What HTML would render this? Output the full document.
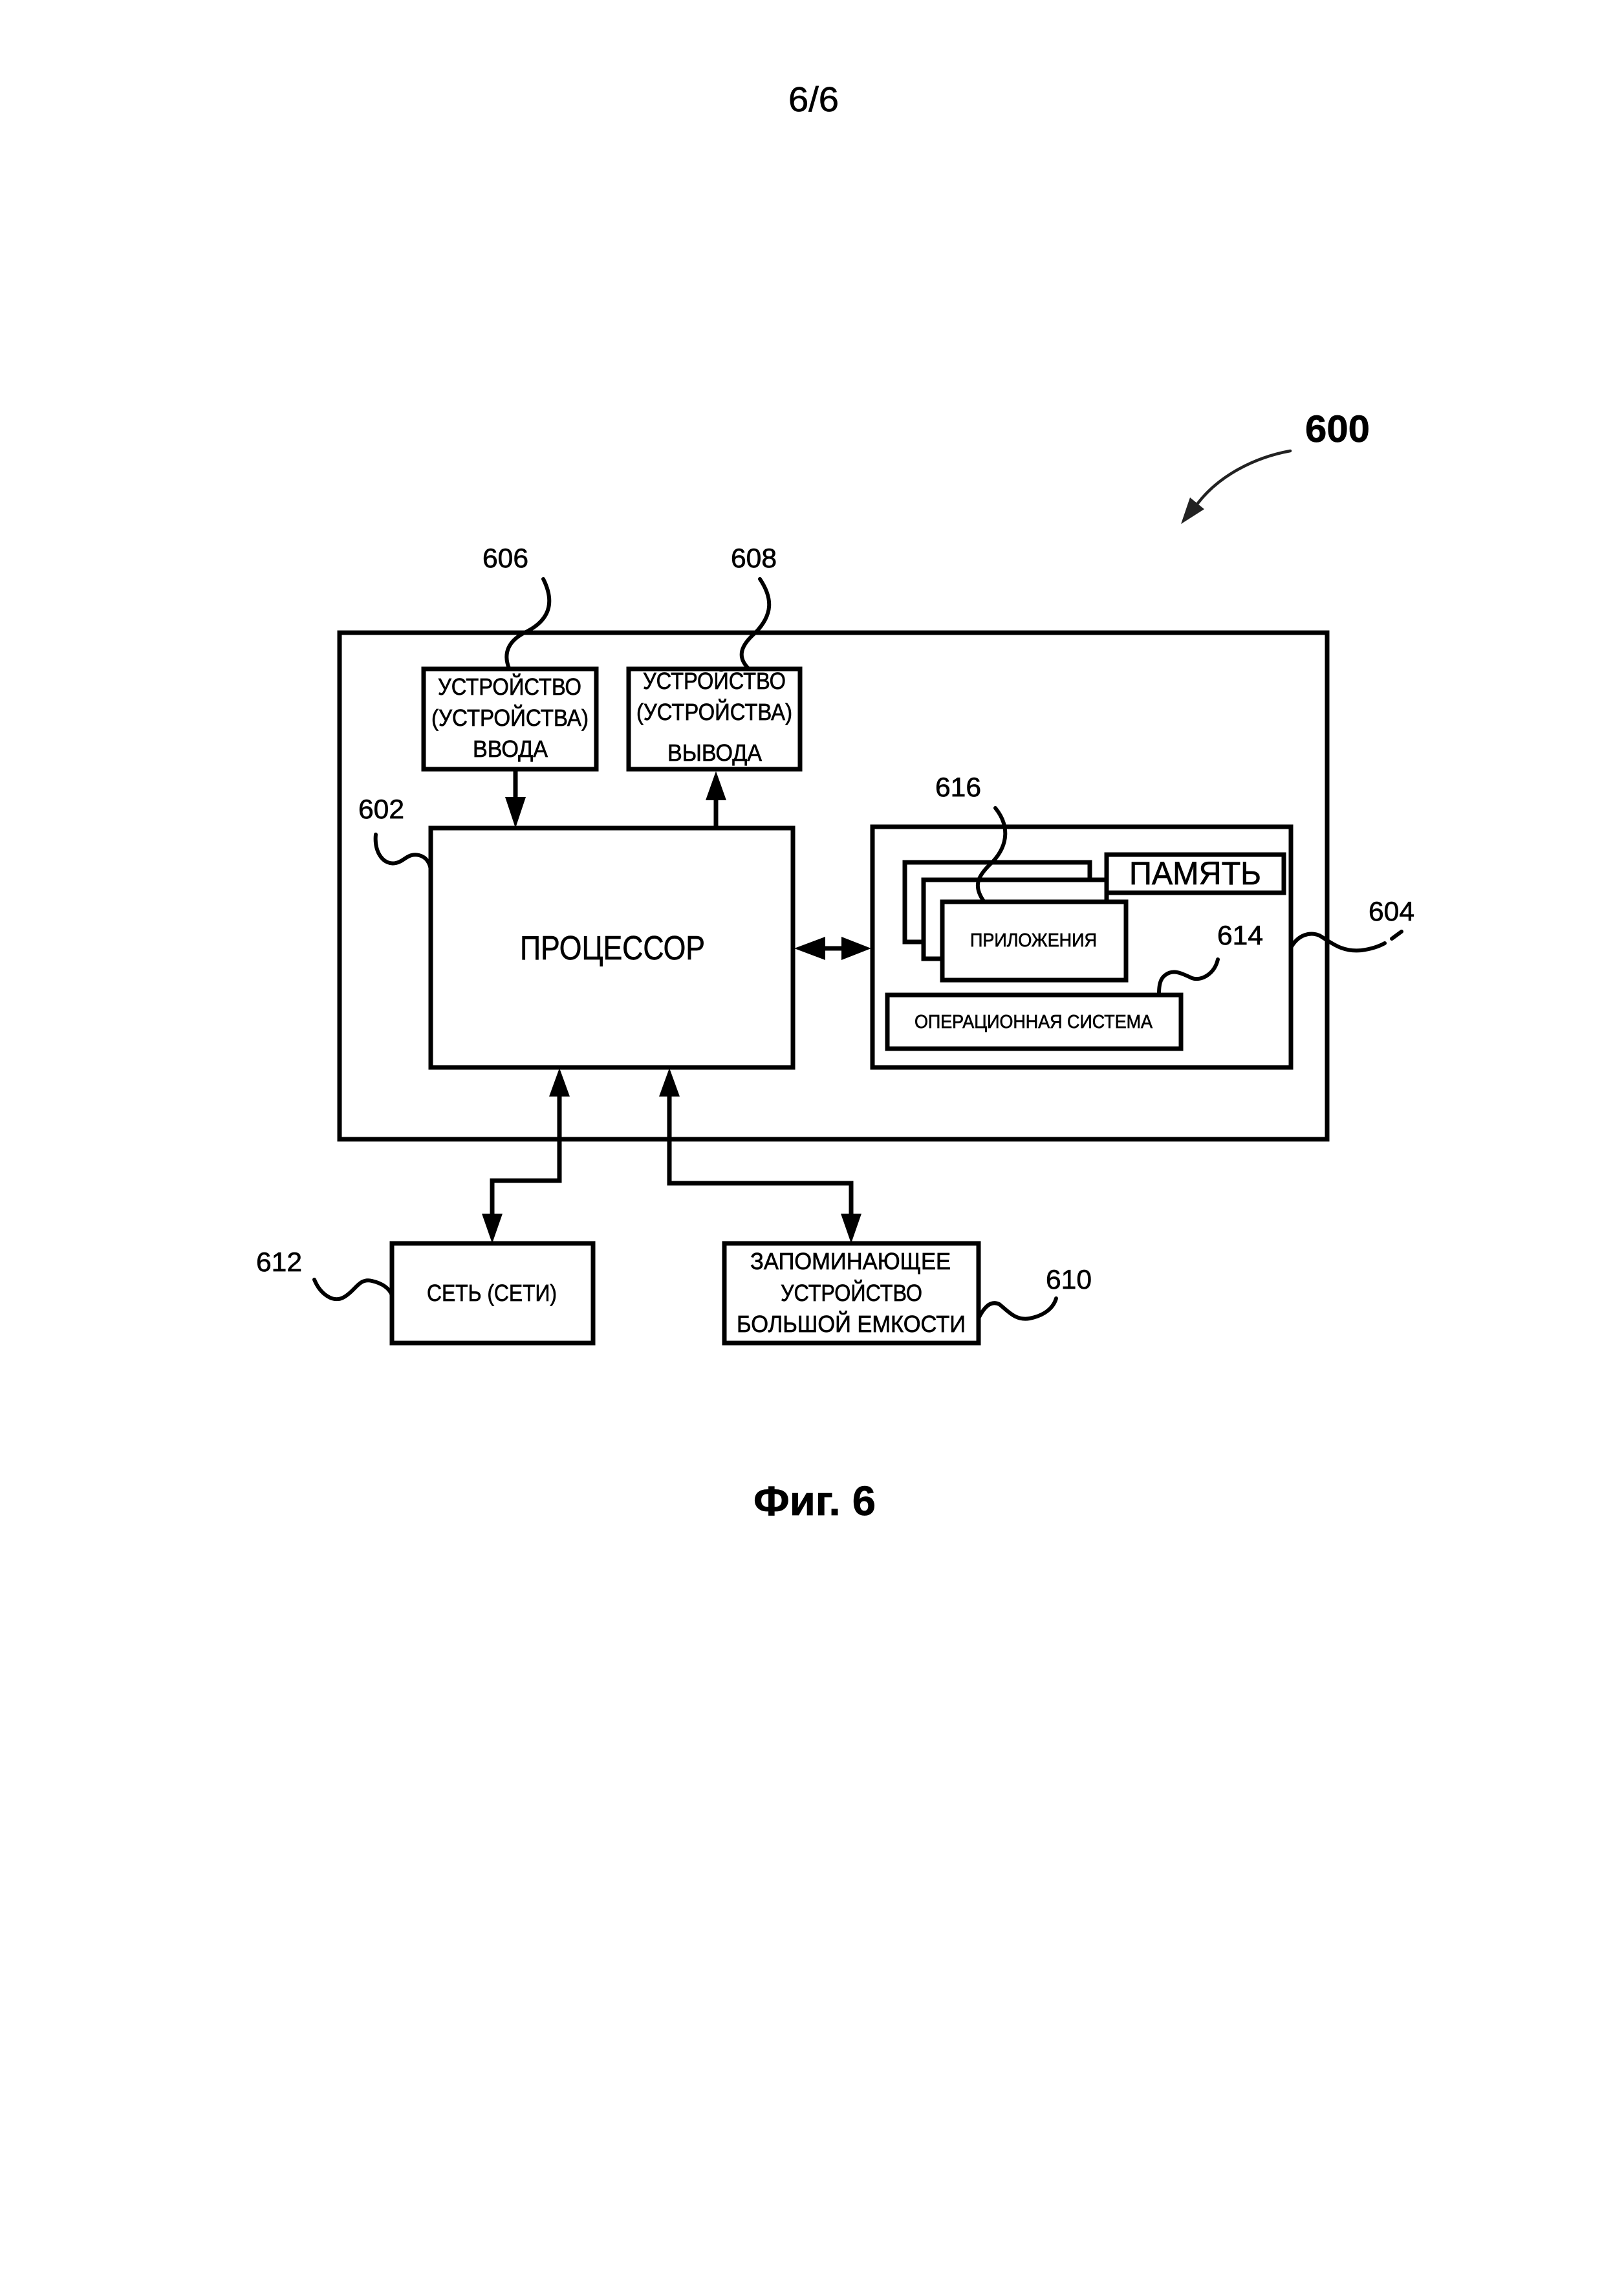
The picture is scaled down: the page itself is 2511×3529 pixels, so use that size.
<!DOCTYPE html>
<html lang="ru"><head><meta charset="utf-8"><title>Фиг. 6</title>
<style>html,body{margin:0;padding:0;background:#fff}svg{display:block}
text{font-family:"Liberation Sans","DejaVu Sans",sans-serif;fill:#000;stroke:#000;stroke-width:.7}</style></head>
<body>
<svg xmlns="http://www.w3.org/2000/svg" width="2511" height="3529" viewBox="0 0 2511 3529">
<rect width="2511" height="3529" fill="#fff"/>
<g fill="#fff" stroke="#000" stroke-width="7" stroke-linejoin="miter">
<rect x="525" y="978" width="1527" height="783"/>
<rect x="655" y="1034" width="267" height="155"/>
<rect x="972" y="1034" width="265" height="155"/>
<rect x="666" y="1280" width="560" height="370"/>
<rect x="1349" y="1278" width="647" height="372"/>
<rect x="1399" y="1333" width="286" height="123"/>
<rect x="1428" y="1360" width="283" height="122"/>
<rect x="1457" y="1394" width="284" height="121"/>
<rect x="1372" y="1538" width="454" height="83"/>
<rect x="1711" y="1321" width="274" height="59"/>
<rect x="606" y="1922" width="311" height="154"/>
<rect x="1120" y="1922" width="393" height="154"/>
</g>
<g fill="none" stroke="#000" stroke-width="7">
<path d="M797 1189V1240M1107 1280V1230M1270 1466H1320"/>
<path d="M865 1690V1825H761V1880"/>
<path d="M1035 1690V1829H1316V1880"/>
</g>
<g fill="#000">
<path d="M781 1232H813L797 1280Z"/>
<path d="M1091 1237H1123L1107 1192Z"/>
<path d="M1276 1448V1484L1228 1466Z"/>
<path d="M1301 1448V1484L1347 1466Z"/>
<path d="M849 1695H881L865 1651Z"/>
<path d="M1019 1695H1051L1035 1651Z"/>
<path d="M745 1876H777L761 1922Z"/>
<path d="M1300 1876H1332L1316 1922Z"/>
</g>
<g fill="none" stroke="#000" stroke-width="6" stroke-linecap="round">
<path d="M840 895C855 925,855 955,815 976C785 990,778 1010,787 1033"/>
<path d="M1175 895C1195 925,1195 950,1168 978C1145 998,1140 1015,1156 1032"/>
<path d="M581 1290C578 1320,595 1338,612 1334C625 1332,630 1318,648 1322C660 1325,665 1335,666 1345"/>
<path d="M1539 1249C1560 1275,1560 1305,1535 1332C1510 1355,1505 1370,1521 1393"/>
<path d="M1883 1483C1878 1505,1858 1517,1843 1512C1830 1506,1815 1497,1802 1507C1793 1513,1792 1525,1792 1537"/>
<path d="M1997 1463C2008 1445,2025 1440,2040 1446C2060 1458,2075 1472,2105 1469C2120 1467,2132 1463,2141 1458"/>
<path d="M2152 1451L2167 1440"/>
<path d="M486 1978C495 2000,515 2015,532 2005C550 1995,555 1975,575 1980C592 1984,602 1992,606 2002"/>
<path d="M1514 2036C1522 2020,1532 2010,1545 2016C1558 2026,1570 2042,1592 2038C1612 2034,1628 2024,1633 2007"/>
</g>
<path d="M1995 697C1940 707,1885 735,1852 778" fill="none" stroke="#222" stroke-width="4.5" stroke-linecap="round"/>
<path d="M1826 810L1840 769L1862 787Z" fill="#222"/>

<text x="1219" y="172" font-size="54" textLength="78" lengthAdjust="spacingAndGlyphs">6/6</text>
<text x="2018" y="683" font-size="58" font-weight="700" textLength="100" lengthAdjust="spacingAndGlyphs">600</text>

<g font-size="42">
<text x="746" y="877" textLength="71" lengthAdjust="spacingAndGlyphs">606</text>
<text x="1130" y="877" textLength="71" lengthAdjust="spacingAndGlyphs">608</text>
<text x="554" y="1265" textLength="71" lengthAdjust="spacingAndGlyphs">602</text>
<text x="1446" y="1231" textLength="71" lengthAdjust="spacingAndGlyphs">616</text>
<text x="1882" y="1460" textLength="71" lengthAdjust="spacingAndGlyphs">614</text>
<text x="2116" y="1423" textLength="71" lengthAdjust="spacingAndGlyphs">604</text>
<text x="396" y="1965" textLength="71" lengthAdjust="spacingAndGlyphs">612</text>
<text x="1617" y="1992" textLength="71" lengthAdjust="spacingAndGlyphs">610</text>
</g>
<g font-size="36">
<text x="677" y="1074" textLength="222" lengthAdjust="spacingAndGlyphs">УСТРОЙСТВО</text>
<text x="667" y="1122" textLength="243" lengthAdjust="spacingAndGlyphs">(УСТРОЙСТВА)</text>
<text x="731" y="1170" textLength="116" lengthAdjust="spacingAndGlyphs">ВВОДА</text>
<text x="994" y="1065" textLength="221" lengthAdjust="spacingAndGlyphs">УСТРОЙСТВО</text>
<text x="984" y="1113" textLength="241" lengthAdjust="spacingAndGlyphs">(УСТРОЙСТВА)</text>
<text x="1032" y="1176" textLength="146" lengthAdjust="spacingAndGlyphs">ВЫВОДА</text>
<text x="660" y="2011" textLength="201" lengthAdjust="spacingAndGlyphs">СЕТЬ (СЕТИ)</text>
<text x="1160" y="1962" textLength="310" lengthAdjust="spacingAndGlyphs">ЗАПОМИНАЮЩЕЕ</text>
<text x="1207" y="2011" textLength="219" lengthAdjust="spacingAndGlyphs">УСТРОЙСТВО</text>
<text x="1139" y="2059" textLength="354" lengthAdjust="spacingAndGlyphs">БОЛЬШОЙ ЕМКОСТИ</text>
</g>
<text x="804" y="1483" font-size="52" textLength="286" lengthAdjust="spacingAndGlyphs">ПРОЦЕССОР</text>
<text x="1746" y="1367" font-size="50" textLength="204" lengthAdjust="spacingAndGlyphs">ПАМЯТЬ</text>
<text x="1500" y="1463" font-size="29" textLength="196" lengthAdjust="spacingAndGlyphs">ПРИЛОЖЕНИЯ</text>
<text x="1414" y="1589" font-size="29" textLength="368" lengthAdjust="spacingAndGlyphs">ОПЕРАЦИОННАЯ СИСТЕМА</text>
<text x="1165" y="2342" font-size="64" font-weight="700" textLength="189" lengthAdjust="spacingAndGlyphs">Фиг. 6</text>
</svg>
</body></html>
